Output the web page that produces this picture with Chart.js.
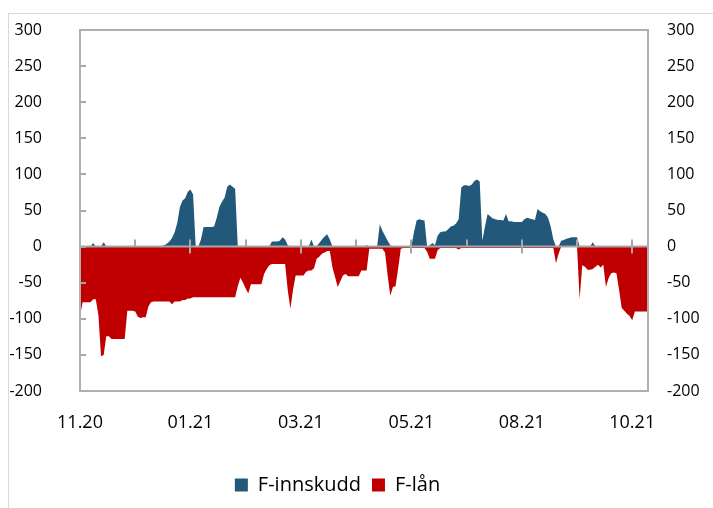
<!DOCTYPE html>
<html>
<head>
<meta charset="utf-8">
<script src="https://cdn.jsdelivr.net/npm/chart.js@4.4.0/dist/chart.umd.min.js"></script>
<style>
body { margin: 0; background: #fff; overflow: hidden; }
#frame { position: absolute; left: 8px; top: 13px; width: 760px; height: 560px; border: 1.5px solid #D9D9D9; }
#wrap { position: absolute; left: 0; top: 0; width: 713px; height: 508px; }
</style>
</head>
<body>
<div id="frame"></div>
<div id="wrap"><canvas id="chart"></canvas></div>
<script>
// business days from early Nov 2020 to late Oct 2021
var innskudd = [
	0, 0, 0, 0, 0, 5, 0, 0, 0, 6,
	0, 0, 0, 0, 0, 0, 0, 0, 0, 0,
	0, 0, 0, 0, 0, 0, 0, 0, 0, 0,
	0, 1, 2, 4, 7, 12, 20, 33, 55, 64,
	67, 76, 79, 72, 0, 0, 10, 27, 27, 27,
	27, 28, 40, 55, 62, 68, 83, 86, 83, 80,
	0, 0, 0, 0, 0, 0, 0, 0, 0, 0,
	0, 0, 0, 7, 7, 7, 8, 13, 10, 2,
	0, 0, 0, 0, 0, 0, 0, 0, 10, 0,
	1, 5, 10, 14, 17, 10, 0, 0, 0, 0,
	0, 0, 0, 0, 0, 0, 0, 0, 0, 2,
	0, 0, 0, 0, 31, 22, 15, 8, 2, 0,
	0, 0, 0, 0, 0, 0, 0, 20, 36, 38,
	37, 36, 0, 2, 5, 2, 15, 20, 21, 21,
	24, 28, 29, 32, 38, 82, 85, 85, 84, 86,
	91, 93, 90, 8, 28, 45, 42, 39, 38, 37,
	37, 36, 45, 35, 35, 34, 34, 34, 34, 38,
	40, 39, 38, 37, 52, 49, 47, 45, 40, 28,
	10, 0, 0, 8, 9, 11, 12, 13, 13, 13,
	0, 0, 0, 0, 0, 6, 0, 0, 0, 0,
	0, 0, 0, 0, 0, 0, 0, 0, 0, 0,
	0, 0, 0, 0, 0, 0, 0
];
var laan = [
	-96, -77, -77, -77, -77, -73, -73, -95, -152, -150,
	-124, -124, -128, -128, -128, -128, -128, -128, -89, -89,
	-89, -90, -97, -99, -98, -98, -83, -77, -76, -76,
	-76, -76, -76, -76, -76, -80, -76, -76, -76, -74,
	-74, -72, -72, -70, -70, -70, -70, -70, -70, -70,
	-70, -70, -70, -70, -70, -70, -70, -70, -70, -70,
	-55, -43, -50, -58, -65, -52, -52, -52, -52, -52,
	-38, -31, -26, -24, -24, -24, -24, -24, -24, -60,
	-86, -60, -40, -40, -40, -40, -35, -33, -33, -30,
	-17, -14, -10, -8, -6, -6, -29, -42, -56, -48,
	-40, -38, -41, -41, -41, -41, -41, -33, -33, -33,
	-3, -3, -3, -3, -3, -3, -8, -40, -68, -56,
	-55, -30, -3, -2, -2, -2, -2, -2, -2, -2,
	-2, -2, -7, -17, -17, -17, -5, -2, -2, -2,
	-2, -2, -2, -2, -4, -2, -2, -2, -2, -2,
	-2, -2, -2, -2, -2, -2, -2, -2, -2, -2,
	-2, -2, -2, -2, -2, -2, -2, -2, -2, -2,
	-2, -2, -2, -2, -2, -2, -2, -2, -2, -2,
	-2, -23, -10, 0, 0, 0, 0, 0, 0, 0,
	-73, -26, -28, -32, -32, -31, -28, -25, -29, -25,
	-56, -44, -37, -36, -37, -60, -85, -89, -93, -96,
	-102, -90, -90, -90, -90, -90, -90
];
var tickLabels = ['11.20', '01.21', '03.21', '05.21', '08.21', '10.21'];
var labelStep = 42;   // days between labelled ticks
var tickStep = 21;    // days between tick marks

function toPoints(arr) {
	var pts = [];
	for (var i = 0; i < arr.length; i++) {
		pts.push({x: i, y: arr[i]});
	}
	return pts;
}

var axisMarks = {
	id: 'axisMarks',
	afterLayout: function(chart) {
		// legend sits a bit left of the canvas centre in the original
		chart.legend.left -= 19;
		chart.legend.right -= 19;
	},
	afterDatasetsDraw: function(chart) {
		var c = chart.ctx, a = chart.chartArea;
		var xs = chart.scales.x, ys = chart.scales.y;
		var y0 = ys.getPixelForValue(0);
		c.save();
		c.strokeStyle = '#A6A6A6';
		c.lineWidth = 2;
		c.beginPath();
		c.moveTo(a.left, y0);
		c.lineTo(a.right, y0);
		for (var d = 0; d < innskudd.length; d += tickStep) {
			var px = Math.round(xs.getPixelForValue(d));
			c.moveTo(px, y0 - 7);
			c.lineTo(px, d % labelStep == 0 ? y0 + 7 : y0);
		}
		ys.ticks.forEach(function(t) {
			var py = Math.round(ys.getPixelForValue(t.value));
			c.moveTo(a.left, py);
			c.lineTo(a.left + 6, py);
		});
		c.stroke();
		c.strokeStyle = '#B0B0B0';
		c.strokeRect(a.left, a.top, a.right - a.left, a.bottom - a.top);
		c.restore();
	}
};

// keep the label padding of the y axes from pushing the plot area in
function fixY(width) {
	return function(scale) {
		scale.width = width;
		scale.paddingTop = 0;
		scale.paddingBottom = 0;
	};
}

var family = "'Open Sans', 'Noto Sans', sans-serif";

var ctx = document.getElementById('chart');
var chart = new Chart(ctx, {
	type: 'line',
	data: {
		datasets: [{
			label: 'F-innskudd',
			data: toPoints(innskudd),
			backgroundColor: '#22587A',
			borderWidth: 0,
			fill: 'origin',
			pointRadius: 0,
			tension: 0
		}, {
			label: 'F-lån',
			data: toPoints(laan),
			backgroundColor: '#C00000',
			borderWidth: 0,
			fill: 'origin',
			pointRadius: 0,
			tension: 0
		}]
	},
	options: {
		responsive: true,
		maintainAspectRatio: false,
		animation: false,
		layout: { padding: { top: 30, bottom: 3, left: 0, right: 0 } },
		plugins: {
			tooltip: { enabled: false },
			legend: {
				position: 'bottom',
				labels: { color: '#000', font: {family: family, size: 20}, boxWidth: 13, boxHeight: 13, padding: 11 }
			}
		},
		scales: {
			x: {
				type: 'linear',
				min: 0,
				max: innskudd.length - 1,
				grid: { display: false },
				border: { display: false },
				afterBuildTicks: function(scale) {
					scale.ticks = tickLabels.map(function(l, i) { return {value: i * labelStep}; });
				},
				ticks: {
					color: '#000',
					font: {family: family, size: 18},
					padding: 13,
					maxRotation: 0,
					callback: function(v) { return tickLabels[v / labelStep]; }
				},
				afterFit: function(scale) { scale.height = 73; }
			},
			y: {
				position: 'left',
				min: -200,
				max: 300,
				ticks: { stepSize: 50, color: '#000', font: {family: family, size: 16}, padding: 38 },
				grid: { drawTicks: false, color: 'transparent' },
				border: { display: false },
				afterFit: fixY(80)
			},
			y2: {
				position: 'right',
				min: -200,
				max: 300,
				ticks: { stepSize: 50, color: '#000', font: {family: family, size: 16}, padding: 19 },
				grid: { display: false, drawTicks: false },
				border: { display: false },
				afterFit: fixY(65)
			}
		}
	},
	plugins: [axisMarks]
});
</script>
</body>
</html>
